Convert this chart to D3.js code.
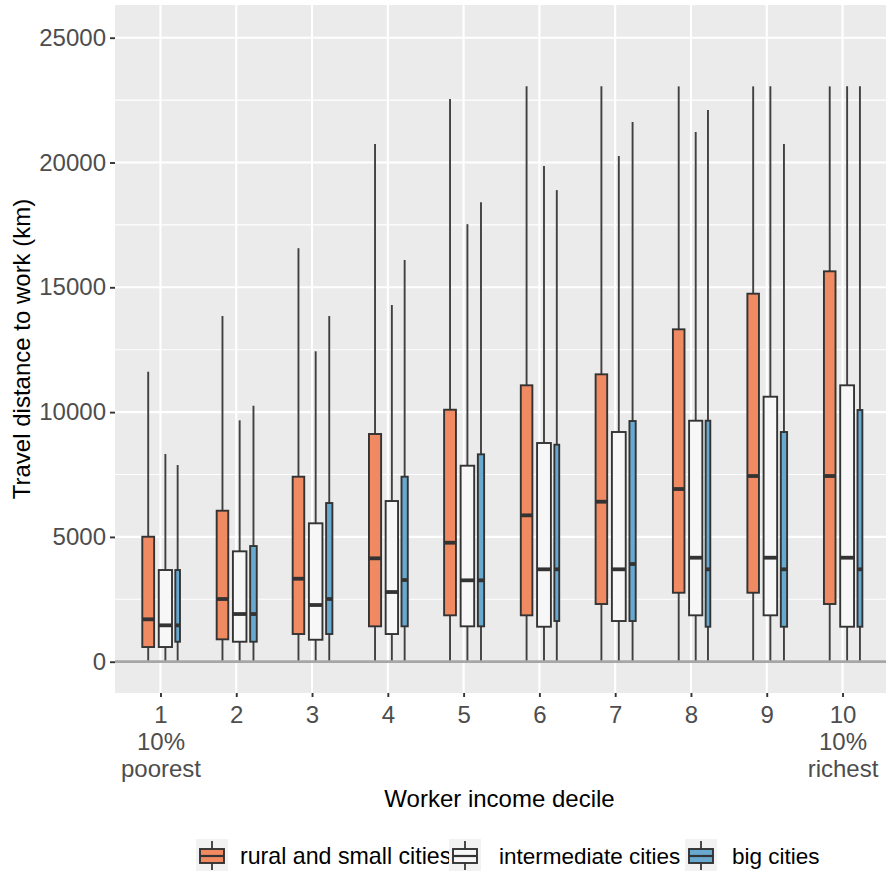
<!DOCTYPE html>
<html>
<head>
<meta charset="utf-8">
<script src="https://cdn.jsdelivr.net/npm/d3@7"></script>
<style>
  html, body { margin: 0; padding: 0; background: #ffffff; }
  svg { display: block; font-family: "Liberation Sans", Arial, sans-serif; }
</style>
</head>
<body>
<svg id="chart" width="886" height="875"></svg>
<script>
// ---------------- DATA ----------------
const deciles = ["1", "2", "3", "4", "5", "6", "7", "8", "9", "10"];
const decileLabels = [["1", "10%", "poorest"], ["2"], ["3"], ["4"], ["5"], ["6"], ["7"], ["8"], ["9"], ["10", "10%", "richest"]];
const seriesNames = ["rural and small cities", "intermediate cities", "big cities"];
const seriesColors = ["#EF8A62", "#F7F7F7", "#67A9CF"];
const yTicks = [0, 5000, 10000, 15000, 20000, 25000];

// rural and small cities
const ruralMin    = [0, 0, 0, 0, 0, 0, 0, 0, 0, 0];
const ruralQ1     = [589, 897, 1110, 1418, 1859, 1859, 2312, 2764, 2764, 2312];
const ruralMedian = [1699, 2512, 3325, 4143, 4768, 5865, 6410, 6919, 7440, 7440];
const ruralQ3     = [5008, 6050, 7412, 9123, 10096, 11074, 11514, 13317, 14744, 15641];
const ruralMax    = [11619, 13850, 16567, 20737, 22540, 23050, 23050, 23050, 23050, 23050];
const ruralN      = [71, 68, 68, 75, 71, 68, 68, 68, 68, 68];

// intermediate cities
const interMin    = [0, 0, 0, 0, 0, 0, 0, 0, 0, 0];
const interQ1     = [589, 801, 881, 1110, 1418, 1402, 1631, 1859, 1859, 1402];
const interMedian = [1458, 1911, 2272, 2792, 3261, 3702, 3702, 4167, 4167, 4167];
const interQ3     = [3674, 4423, 5545, 6438, 7853, 8762, 9203, 9655, 10617, 11074];
const interMax    = [8321, 9671, 12436, 14291, 17530, 19856, 20256, 21218, 23050, 23050];
const interN      = [89, 93, 93, 78, 93, 97, 97, 89, 93, 97];

// big cities
const bigMin    = [0, 0, 0, 0, 0, 0, 0, 0, 0, 0];
const bigQ1     = [801, 801, 1110, 1418, 1418, 1631, 1631, 1402, 1402, 1402];
const bigMedian = [1458, 1911, 2512, 3273, 3261, 3702, 3914, 3702, 3702, 3702];
const bigQ3     = [3674, 4635, 6358, 7412, 8309, 8694, 9643, 9655, 9203, 10084];
const bigMax    = [7880, 10256, 13850, 16094, 18410, 18894, 21618, 22099, 20737, 23050];
const bigN      = [11, 22, 20, 20, 20, 12, 20, 11, 20, 12];

// --------------- BUILD TABLE ---------------
const seriesStats = [
  {min: ruralMin, q1: ruralQ1, med: ruralMedian, q3: ruralQ3, max: ruralMax, n: ruralN},
  {min: interMin, q1: interQ1, med: interMedian, q3: interQ3, max: interMax, n: interN},
  {min: bigMin, q1: bigQ1, med: bigMedian, q3: bigQ3, max: bigMax, n: bigN}
];
const boxes = [];
deciles.forEach((d, i) => {
  seriesStats.forEach((s, j) => {
    boxes.push({decile: d, series: j, min: s.min[i], q1: s.q1[i], med: s.med[i], q3: s.q3[i], max: s.max[i], n: s.n[i]});
  });
});

// --------------- LAYOUT ---------------
const svg = d3.select("#chart");
const panel = {left: 115, right: 888, top: 5, bottom: 693};

const x = d3.scalePoint().domain(deciles).range([panel.left, panel.right]).padding(0.6);
const y = d3.scaleLinear().domain([-1253, 26310]).range([panel.bottom, panel.top]);
const nMax = d3.max(boxes, b => b.n);
const widthScale = d3.scaleSqrt().domain([0, nMax]).range([0, x.step() * 0.75 / 3]);
const padding = 0.27;

// dodge2-like placement
deciles.forEach(d => {
  const grp = boxes.filter(b => b.decile === d);
  const total = d3.sum(grp, b => widthScale(b.n));
  let start = x(d) - total / 2;
  grp.forEach(b => {
    const nw = widthScale(b.n);
    b.cx = start + nw / 2;
    b.w = nw * (1 - padding);
    start += nw;
  });
});

// panel background
svg.append("rect")
  .attr("x", panel.left).attr("y", panel.top)
  .attr("width", panel.right - panel.left).attr("height", panel.bottom - panel.top)
  .attr("fill", "#EBEBEB");

const g = svg.append("g");

// minor y gridlines
const minorTicks = d3.range(-2500, 27600, 5000).filter(v => v > y.domain()[0] && v < y.domain()[1]);
g.selectAll("line.minor").data(minorTicks).join("line")
  .attr("x1", panel.left).attr("x2", panel.right)
  .attr("y1", d => y(d)).attr("y2", d => y(d))
  .attr("stroke", "#ffffff").attr("stroke-width", 1.1);

// major y gridlines
g.selectAll("line.majorY").data(yTicks).join("line")
  .attr("x1", panel.left).attr("x2", panel.right)
  .attr("y1", d => y(d)).attr("y2", d => y(d))
  .attr("stroke", "#ffffff").attr("stroke-width", 2.1);

// major x gridlines
g.selectAll("line.majorX").data(deciles).join("line")
  .attr("x1", d => x(d)).attr("x2", d => x(d))
  .attr("y1", panel.top).attr("y2", panel.bottom)
  .attr("stroke", "#ffffff").attr("stroke-width", 2.1);

// boxes
const bg = svg.append("g");
const boxG = bg.selectAll("g.box").data(boxes).join("g");
boxG.append("line")
  .attr("x1", b => b.cx).attr("x2", b => b.cx)
  .attr("y1", b => y(b.q3)).attr("y2", b => y(b.max))
  .attr("stroke", "#404040").attr("stroke-width", 1.9);
boxG.append("line")
  .attr("x1", b => b.cx).attr("x2", b => b.cx)
  .attr("y1", b => y(b.q1)).attr("y2", b => y(b.min))
  .attr("stroke", "#404040").attr("stroke-width", 1.9);
boxG.append("rect")
  .attr("x", b => b.cx - b.w / 2).attr("width", b => b.w)
  .attr("y", b => y(b.q3)).attr("height", b => y(b.q1) - y(b.q3))
  .attr("fill", b => seriesColors[b.series])
  .attr("stroke", "#333333").attr("stroke-width", 1.9);
boxG.append("line")
  .attr("x1", b => b.cx - b.w / 2).attr("x2", b => b.cx + b.w / 2)
  .attr("y1", b => y(b.med)).attr("y2", b => y(b.med))
  .attr("stroke", "#333333").attr("stroke-width", 3.8);

// zero reference line
svg.append("line")
  .attr("x1", panel.left).attr("x2", panel.right)
  .attr("y1", y(0)).attr("y2", y(0))
  .attr("stroke", "#A6A6A6").attr("stroke-width", 2.8);

// y axis
const yAxis = d3.axisLeft(y).tickValues(yTicks).tickSize(5).tickPadding(4).tickFormat(d3.format("d"));
const yAx = svg.append("g").attr("transform", `translate(${panel.left},0)`).call(yAxis);
yAx.select(".domain").remove();
yAx.selectAll(".tick line").attr("stroke", "#333333").attr("stroke-width", 1.9);
yAx.selectAll(".tick text").attr("fill", "#4D4D4D").style("font-size", "24px")
  .style("font-family", "'Liberation Sans', Arial, sans-serif");

// x axis
const xAxis = d3.axisBottom(x).tickSize(4).tickFormat("");
const xAx = svg.append("g").attr("transform", `translate(0,${panel.bottom})`).call(xAxis);
xAx.select(".domain").remove();
xAx.selectAll(".tick line").attr("stroke", "#333333").attr("stroke-width", 1.9);
xAx.selectAll(".tick").each(function(d, i) {
  const t = d3.select(this).append("text")
    .attr("fill", "#4D4D4D").attr("text-anchor", "middle")
    .style("font-size", "24px")
    .style("font-family", "'Liberation Sans', Arial, sans-serif");
  decileLabels[i].forEach((line, k) => {
    t.append("tspan").attr("x", 0).attr("y", 30 + k * 27).text(line);
  });
});

// axis titles
svg.append("text")
  .attr("x", (panel.left + panel.right) / 2 - 2).attr("y", 807)
  .attr("text-anchor", "middle").attr("fill", "#000000")
  .style("font-size", "24px")
  .text("Worker income decile");
svg.append("text")
  .attr("transform", `translate(30,${(panel.top + panel.bottom) / 2}) rotate(-90)`)
  .attr("text-anchor", "middle").attr("fill", "#000000")
  .style("font-size", "24px")
  .text("Travel distance to work (km)");

// legend
const legendKeyX = [196, 449, 685];
const legendTextX = [240, 499, 732];
const legendY = 839;
const keySize = 32;
const lg = svg.append("g");
seriesNames.forEach((name, i) => {
  const kx = legendKeyX[i];
  const k = lg.append("g");
  k.append("rect").attr("x", kx).attr("y", legendY).attr("width", keySize).attr("height", keySize)
    .attr("fill", "#F2F2F2");
  const cx = kx + keySize / 2;
  k.append("line").attr("x1", cx).attr("x2", cx).attr("y1", legendY + 2).attr("y2", legendY + keySize - 1)
    .attr("stroke", "#404040").attr("stroke-width", 1.9);
  k.append("rect").attr("x", kx + 4).attr("y", legendY + 10).attr("width", keySize - 8).attr("height", 14)
    .attr("fill", seriesColors[i]).attr("stroke", "#333333").attr("stroke-width", 1.9);
  k.append("line").attr("x1", kx + 4).attr("x2", kx + keySize - 4)
    .attr("y1", legendY + 17).attr("y2", legendY + 17)
    .attr("stroke", "#333333").attr("stroke-width", 2.2);
  lg.append("text").attr("x", legendTextX[i]).attr("y", legendY + 25)
    .attr("fill", "#000000").style("font-size", i === 0 ? "23.2px" : "22.5px").text(name);
});
</script>
</body>
</html>
